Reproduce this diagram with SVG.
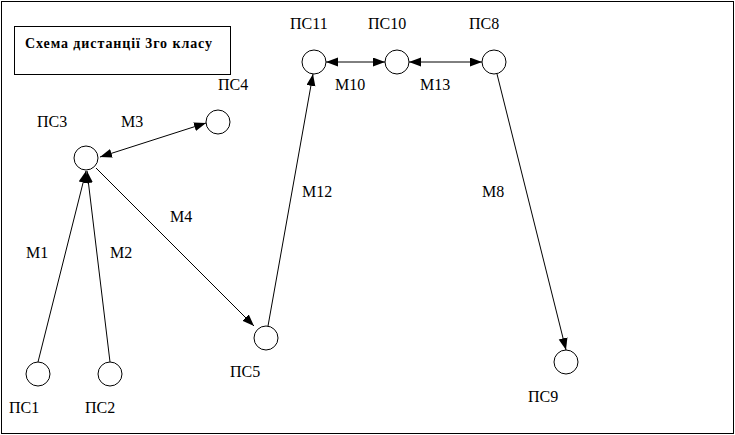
<svg xmlns="http://www.w3.org/2000/svg" width="735" height="435" viewBox="0 0 735 435" font-family="Liberation Serif, DejaVu Serif, serif">
<style>
text{font-family:'Liberation Serif','DejaVu Serif',serif;font-size:16px;fill:#000}
.title{font-weight:bold;font-size:14px}
.node circle{fill:#fff;stroke:#000;stroke-width:1}
#connectors line{stroke:#000;stroke-width:1}
</style>
<defs>
<marker id="ah" markerUnits="userSpaceOnUse" markerWidth="13" markerHeight="10" refX="12" refY="4.5" orient="auto-start-reverse" viewBox="0 0 13 10">
<path d="M0,0 L12,4.5 L0,9 z" fill="#000"/>
</marker>
</defs>
<rect x="1.5" y="1.5" width="732" height="432" fill="#fff" stroke="#000" stroke-width="1"/>
<g id="title">
<rect x="14.5" y="26.5" width="216" height="48" fill="#fff" stroke="#000" stroke-width="1"/>
<text class="title" x="25" y="48" textLength="187" lengthAdjust="spacing">Схема дистанції 3го класу</text>
</g>
<g id="connectors">
<line x1="38" y1="362" x2="86" y2="171" marker-end="url(#ah)"/>
<line x1="110" y1="362" x2="87" y2="171" marker-end="url(#ah)"/>
<line x1="100" y1="157" x2="206" y2="123" marker-start="url(#ah)" marker-end="url(#ah)"/>
<line x1="96" y1="168" x2="254" y2="326" marker-end="url(#ah)"/>
<line x1="268" y1="326" x2="313" y2="74" marker-end="url(#ah)"/>
<line x1="326" y1="62" x2="385" y2="62" marker-start="url(#ah)" marker-end="url(#ah)"/>
<line x1="409" y1="62" x2="482" y2="62" marker-start="url(#ah)" marker-end="url(#ah)"/>
<line x1="497" y1="74" x2="566" y2="350" marker-end="url(#ah)"/>
<text x="26" y="258">М1</text>
<text x="110" y="258">М2</text>
<text x="121" y="127">М3</text>
<text x="170" y="222">М4</text>
<text x="302" y="197">М12</text>
<text x="482" y="197">М8</text>
<text x="335" y="90">М10</text>
<text x="420" y="90">М13</text>
</g>
<g id="ps1" class="node"><circle cx="38" cy="374" r="12"/><text x="9" y="413">ПС1</text></g>
<g id="ps2" class="node"><circle cx="110" cy="374" r="12"/><text x="85" y="413">ПС2</text></g>
<g id="ps3" class="node"><circle cx="86" cy="158" r="12"/><text x="37" y="127">ПС3</text></g>
<g id="ps4" class="node"><circle cx="218" cy="122" r="12"/><text x="218" y="90">ПС4</text></g>
<g id="ps5" class="node"><circle cx="266" cy="338" r="12"/><text x="230" y="377">ПС5</text></g>
<g id="ps11" class="node"><circle cx="314" cy="62" r="12"/><text x="290" y="29">ПС11</text></g>
<g id="ps10" class="node"><circle cx="397" cy="62" r="12"/><text x="368" y="29">ПС10</text></g>
<g id="ps8" class="node"><circle cx="494" cy="62" r="12"/><text x="469" y="29">ПС8</text></g>
<g id="ps9" class="node"><circle cx="566" cy="362" r="12"/><text x="528" y="402">ПС9</text></g>
</svg>
